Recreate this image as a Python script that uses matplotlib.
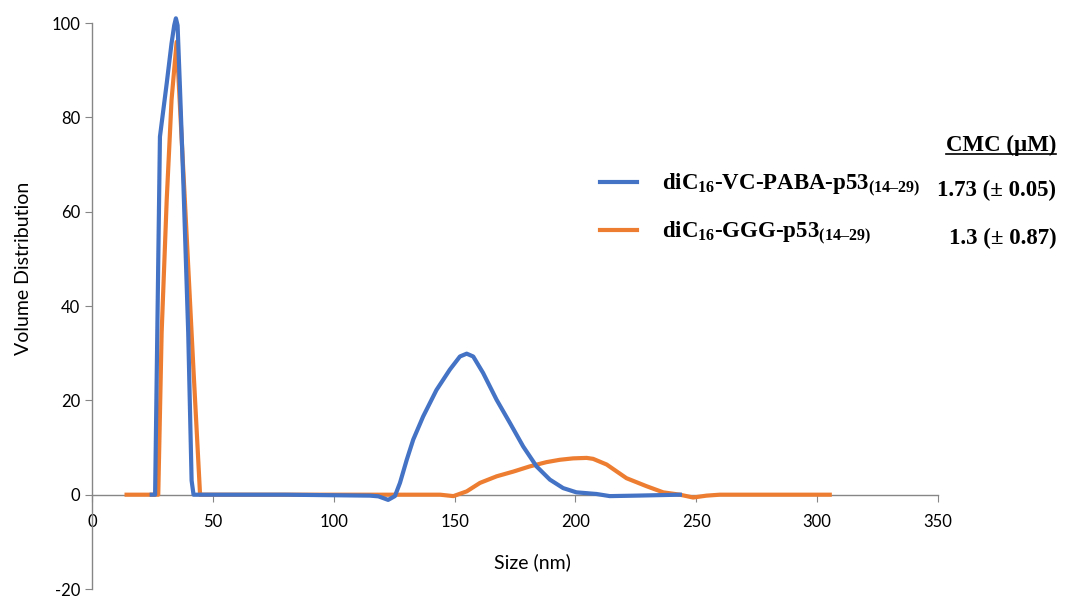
import numpy as np
import matplotlib.pyplot as plt
from matplotlib.lines import Line2D

plt.rcParams['axes.unicode_minus'] = False

# blue: diC16-VC-PABA-p53(14-29)
size_vc = [24.7, 26.1, 28.1, 30.9, 32.9, 34.0, 34.7, 35.4, 36.4, 37.8, 39.8, 41.2, 42.0,
           80, 115.0, 118.5, 122.5, 125.3, 127.4, 130.2, 132.9, 137.0, 142.5, 148.0,
           152.2, 155.0, 157.7, 161.8, 167.4, 172.9, 178.4, 183.9, 189.4, 194.9,
           200.4, 208.7, 214.2, 225.0, 243.2]
vol_vc = [0, 0, 75.9, 87.2, 95.7, 99.5, 101.0, 99.5, 86.0, 66.0, 34.3, 3.0, 0,
          0, -0.2, -0.35, -1.1, -0.3, 2.5, 7.4, 11.7, 16.6, 22.2, 26.5,
          29.3, 29.9, 29.3, 25.8, 20.1, 15.2, 10.2, 6.0, 3.2, 1.4,
          0.5, 0.15, -0.3, -0.2, 0]

# orange: diC16-GGG-p53(14-29)
size_ggg = [14.3, 27.4, 28.8, 30.9, 32.9, 35.0, 38.4, 41.9, 44.7, 80, 144.0, 149.5,
            155.0, 160.5, 167.4, 174.3, 181.1, 188.0, 193.5, 199.0, 204.6, 207.3,
            212.9, 221.1, 229.4, 236.3, 243.2, 248.7, 254.2, 259.7, 305.2]
vol_ggg = [0, 0, 34.3, 62.5, 83.7, 96.0, 62.5, 27.2, 0, 0, 0, -0.3,
           0.7, 2.5, 3.9, 4.9, 6.0, 6.9, 7.4, 7.7, 7.8, 7.6,
           6.4, 3.5, 1.8, 0.5, 0, -0.6, -0.2, 0, 0]

labels = ['diC$_{16}$-VC-PABA-p53$_{(14\u201329)}$', 'diC$_{16}$-GGG-p53$_{(14\u201329)}$']
cmc = ['1.73 (\u00b1 0.05)', '1.3 (\u00b1 0.87)']
colors = ['#4472C4', '#ED7D31']

plt.rcParams['mathtext.fontset'] = 'custom'
plt.rcParams['mathtext.rm'] = 'Liberation Serif:bold'
plt.rcParams['mathtext.it'] = 'Liberation Serif:bold'
plt.rcParams['mathtext.bf'] = 'Liberation Serif:bold'

fig = plt.figure(figsize=(10.65, 5.98), dpi=100)
ax = fig.add_axes([0.0864, 0.015, 0.7944, 0.9465])

ax.plot(size_ggg, vol_ggg, color=colors[1], lw=3, solid_joinstyle='round',
        zorder=3, clip_on=False)
ax.plot(size_vc, vol_vc, color=colors[0], lw=3, solid_joinstyle='round',
        zorder=4, clip_on=False)

ax.set_xlim(0, 350)
ax.set_ylim(-20, 100)
ax.set_xticks(np.arange(0, 351, 50))
ax.set_yticks(np.arange(-20, 101, 20))

for s in ['top', 'right']:
    ax.spines[s].set_visible(False)
ax.spines['bottom'].set_position(('data', 0))
for s in ['left', 'bottom']:
    ax.spines[s].set_color('#868686')
    ax.spines[s].set_linewidth(1)
ax.tick_params(colors='#868686', labelcolor='black', length=5, labelsize=12)
ax.tick_params(axis='x', pad=9)
for lab in ax.get_xticklabels() + ax.get_yticklabels():
    lab.set_family('Lato')

ax.set_xlabel('Size (nm)', fontsize=14, family='Lato')
ax.xaxis.set_label_coords(0.52, 0.0636)
ax.set_ylabel('Volume Distribution', fontsize=14, family='Lato')
ax.yaxis.set_label_coords(-0.071, 0.567)

handles = [Line2D([], [], color=c, lw=3) for c in colors]
ax.legend(handles, labels, loc='center left', bbox_to_anchor=(0.6005, 0.671),
          frameon=False, borderpad=0, borderaxespad=0, handlelength=1.6,
          handletextpad=1.1, labelspacing=0.9,
          prop={'family': 'Liberation Serif', 'weight': 'bold', 'size': 16.5})

head = fig.text(0.992, 0.757, 'CMC (\u00b5M)', ha='right', va='center', fontsize=16.5,
                family='Liberation Serif', weight='bold')
fig.text(0.992, 0.682, cmc[0], ha='right', va='center', fontsize=16.5,
         family='Liberation Serif', weight='bold')
fig.text(0.992, 0.602, cmc[1], ha='right', va='center', fontsize=16.5,
         family='Liberation Serif', weight='bold')

# underline for the CMC header
fig.canvas.draw()
bb = head.get_window_extent().transformed(fig.transFigure.inverted())
fig.add_artist(Line2D([bb.x0, bb.x1], [bb.y0 + 0.004, bb.y0 + 0.004],
                      transform=fig.transFigure, color='black', lw=1.2))

fig.savefig('out.png', dpi=100)
